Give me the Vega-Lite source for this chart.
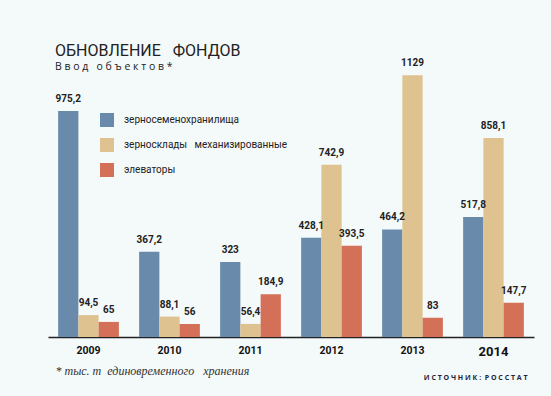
{
  "$schema": "https://vega.github.io/schema/vega-lite/v6.json",
  "autosize": "none",
  "width": 486,
  "height": 265,
  "padding": {"left": 48, "top": 72, "right": 17, "bottom": 59},
  "background": "#f4f9fa",
  "title": {
    "text": "ОБНОВЛЕНИЕ\u00a0\u00a0\u00a0ФОНДОВ",
    "subtitle": "В\u00a0в\u00a0о\u00a0д\u00a0\u00a0\u00a0о\u00a0б\u00a0ъ\u00a0е\u00a0к\u00a0т\u00a0о\u00a0в\u00a0*",
    "anchor": "start",
    "frame": "group",
    "dx": 7,
    "offset": -14,
    "font": "Roboto",
    "fontSize": 16,
    "fontWeight": "normal",
    "color": "#222222",
    "subtitleFont": "Open Sans",
    "subtitleFontSize": 10.5,
    "subtitleColor": "#222222",
    "subtitlePadding": 3
  },
  "data": {
    "values": [
      {"year": "2009", "type": "зерносеменохранилища", "value": 975.2},
      {"year": "2009", "type": "зерносклады\u00a0\u00a0\u00a0механизированные", "value": 94.5},
      {"year": "2009", "type": "элеваторы", "value": 65},
      {"year": "2010", "type": "зерносеменохранилища", "value": 367.2},
      {"year": "2010", "type": "зерносклады\u00a0\u00a0\u00a0механизированные", "value": 88.1},
      {"year": "2010", "type": "элеваторы", "value": 56},
      {"year": "2011", "type": "зерносеменохранилища", "value": 323},
      {"year": "2011", "type": "зерносклады\u00a0\u00a0\u00a0механизированные", "value": 56.4},
      {"year": "2011", "type": "элеваторы", "value": 184.9},
      {"year": "2012", "type": "зерносеменохранилища", "value": 428.1},
      {"year": "2012", "type": "зерносклады\u00a0\u00a0\u00a0механизированные", "value": 742.9},
      {"year": "2012", "type": "элеваторы", "value": 393.5},
      {"year": "2013", "type": "зерносеменохранилища", "value": 464.2},
      {"year": "2013", "type": "зерносклады\u00a0\u00a0\u00a0механизированные", "value": 1129},
      {"year": "2013", "type": "элеваторы", "value": 83},
      {"year": "2014", "type": "зерносеменохранилища", "value": 517.8},
      {"year": "2014", "type": "зерносклады\u00a0\u00a0\u00a0механизированные", "value": 858.1},
      {"year": "2014", "type": "элеваторы", "value": 147.7}
    ]
  },
  "encoding": {
    "x": {
      "field": "year",
      "type": "nominal",
      "scale": {"paddingInner": 0.25, "paddingOuter": 0.125},
      "axis": {
        "title": "*\u00a0тыс.\u00a0т\u00a0\u00a0единовременного\u00a0\u00a0\u00a0хранения",
        "titleFont": "Liberation Serif",
        "titleFontStyle": "italic",
        "titleFontWeight": "normal",
        "titleFontSize": 12,
        "titleColor": "#333333",
        "titleAnchor": "start",
        "titleAlign": "left",
        "titleBaseline": "middle",
        "titleX": 7,
        "titleY": 33,
        "labelAngle": 0,
        "labelFont": "Roboto",
        "labelFontWeight": "bold",
        "labelFontSize": {"condition": {"test": "datum.value == '2014'", "value": 13}, "value": 10.5},
        "labelColor": "#111111",
        "labelPadding": 8,
        "ticks": false,
        "domainColor": "#222222",
        "domainWidth": 1.5
      }
    },
    "xOffset": {"field": "type", "type": "nominal", "sort": null},
    "y": {
      "field": "value",
      "type": "quantitative",
      "scale": {"domain": [0, 1143], "nice": false},
      "axis": {
        "orient": "right",
        "title": "И\u00a0С\u00a0Т\u00a0О\u00a0Ч\u00a0Н\u00a0И\u00a0К\u00a0:\u00a0\u00a0Р\u00a0О\u00a0С\u00a0С\u00a0Т\u00a0А\u00a0Т",
        "titleAngle": 0,
        "titleAlign": "right",
        "titleBaseline": "middle",
        "titleX": -7,
        "titleY": 305,
        "titleFont": "Open Sans",
        "titleFontSize": 7,
        "titleFontWeight": "bold",
        "titleColor": "#1c2433",
        "labels": false,
        "ticks": false,
        "domain": false,
        "grid": false
      }
    }
  },
  "layer": [
    {
      "mark": {"type": "bar"},
      "encoding": {
        "color": {
          "field": "type",
          "type": "nominal",
          "sort": null,
          "scale": {"range": ["#6a8aab", "#dec28f", "#d46f58"]},
          "legend": {
            "title": null,
            "orient": "none",
            "legendX": 52,
            "legendY": 41,
            "symbolType": "square",
            "symbolSize": 196,
            "symbolStrokeWidth": 0,
            "labelFont": "Roboto",
            "labelFontSize": 10,
            "labelColor": "#222222",
            "labelOffset": 10,
            "labelLimit": 300,
            "rowPadding": 11
          }
        }
      }
    },
    {
      "mark": {"type": "text", "baseline": "bottom", "dy": -7, "font": "Roboto", "fontWeight": "bold", "fontSize": 10, "color": "#222222"},
      "encoding": {
        "text": {"field": "value", "type": "quantitative", "format": "~f"}
      }
    }
  ],
  "config": {
    "view": {"stroke": null},
    "locale": {"number": {"decimal": ",", "thousands": "\u00a0", "grouping": [3], "currency": ["", ""]}}
  }
}
